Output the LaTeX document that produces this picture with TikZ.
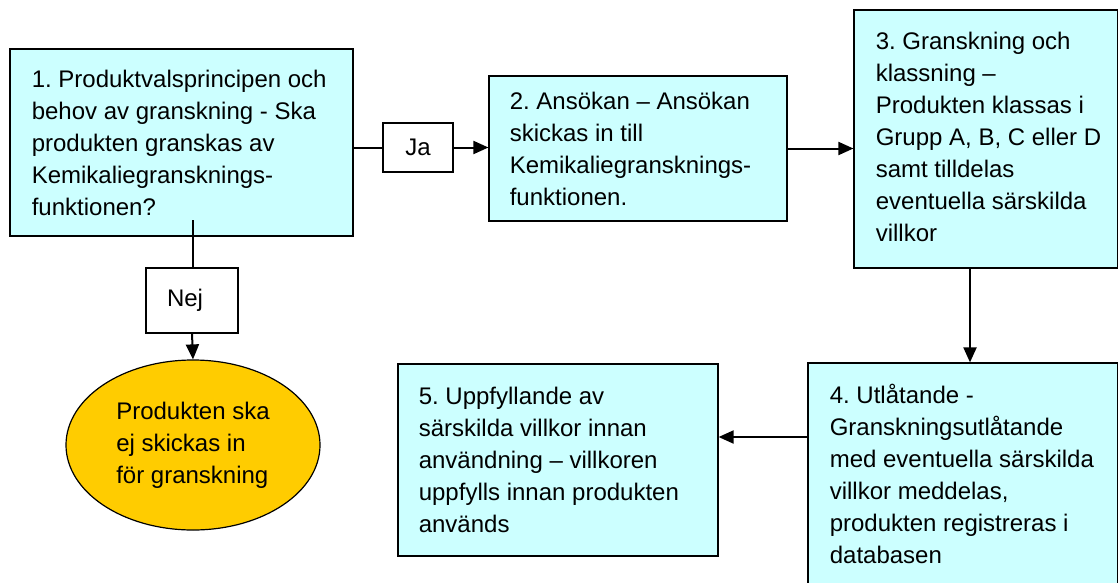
\documentclass[tikz,border=0pt]{standalone}
\usepackage{fontspec}
\setmainfont{Liberation Sans}
\usetikzlibrary{arrows.meta,shapes.geometric}
\definecolor{boxfill}{HTML}{CCFFFF}
\definecolor{ovalfill}{HTML}{FFCC00}
\tikzset{
  stepbox/.style={draw, line width=0.6pt, fill=boxfill, rectangle, inner sep=0pt},
  steptext/.style={anchor=west, align=left, inner sep=0pt,
    font=\fontsize{12}{16}\selectfont\frenchspacing},
  tag/.style={draw, line width=0.6pt, fill=white, rectangle, inner sep=0pt,
    font=\fontsize{12}{16}\selectfont},
  oval/.style={draw, line width=0.6pt, fill=ovalfill, ellipse, inner sep=0pt,
    align=left, font=\fontsize{12}{16}\selectfont},
  conn/.style={line width=1pt},
  flow/.style={line width=1pt, -{Triangle[length=7.5pt,width=6.5pt]}}
}
\begin{document}
\begin{tikzpicture}[x=0.5pt,y=-0.5pt]
\useasboundingbox (0,0) rectangle (1118,583);

\node[stepbox, minimum width=171.5pt, minimum height=93.5pt] (prod) at (181.5,142.5) {};
\node[steptext] (prod-t) at ([xshift=11pt]prod.west)
  {1. Produktvalsprincipen och\\behov av granskning - Ska\\produkten granskas av\\Kemikaliegransknings-\\funktionen?};
\node[stepbox, minimum width=149pt, minimum height=72.5pt] (ansokan) at (638,148.5) {};
\node[steptext] (ansokan-t) at ([xshift=10.5pt]ansokan.west)
  {2. Ansökan – Ansökan\\skickas in till\\Kemikaliegransknings-\\funktionen.};
\node[stepbox, minimum width=132pt, minimum height=129pt] (klass) at (986,139) {};
\node[steptext] (klass-t) at ([xshift=11pt,yshift=1pt]klass.west)
  {3. Granskning och\\klassning –\\Produkten klassas i\\Grupp A, B, C eller D\\samt tilldelas\\eventuella särskilda\\villkor};
\node[stepbox, minimum width=155pt, minimum height=111pt] (utlat) at (963,474) {};
\node[steptext] (utlat-t) at ([xshift=11pt]utlat.west)
  {4. Utlåtande -\\Granskningsutlåtande\\med eventuella särskilda\\villkor meddelas,\\produkten registreras i\\databasen};
\node[stepbox, minimum width=160pt, minimum height=96pt] (villkor) at (558,460) {};
\node[steptext] (villkor-t) at ([xshift=10.5pt]villkor.west)
  {5. Uppfyllande av\\särskilda villkor innan\\användning – villkoren\\uppfylls innan produkten\\används};

\node[tag, minimum width=35pt, minimum height=24.5pt] (ja) at (418,147.5) {Ja};
\node[tag, minimum width=46pt, minimum height=32.5pt, text width=25pt, inner xsep=10.5pt, align=left] (nej) at (192,300.5) {Nej};
\node[oval, minimum width=127pt, minimum height=85pt] (ej) at (193,445)
  {Produkten ska\\ej skickas in\\för granskning};

\coordinate (nejstart) at (193,220);
\coordinate (klassut) at (970,268);

\draw[conn] (ja.west -| prod.east) -- (ja.west);
\draw[flow] (ja.east) -- (ja.east -| ansokan.west);
\draw[flow] (ansokan.east) -- (ansokan.east -| klass.west);
\draw[flow] (klassut) -- (klassut |- utlat.north);
\draw[flow] (utlat.west |- 0,437) -- (villkor.east |- 0,437);
\draw[conn] (nejstart) -- (nejstart |- nej.north);
\draw[flow] (nej.south) -- (ej.north);
\end{tikzpicture}
\end{document}
